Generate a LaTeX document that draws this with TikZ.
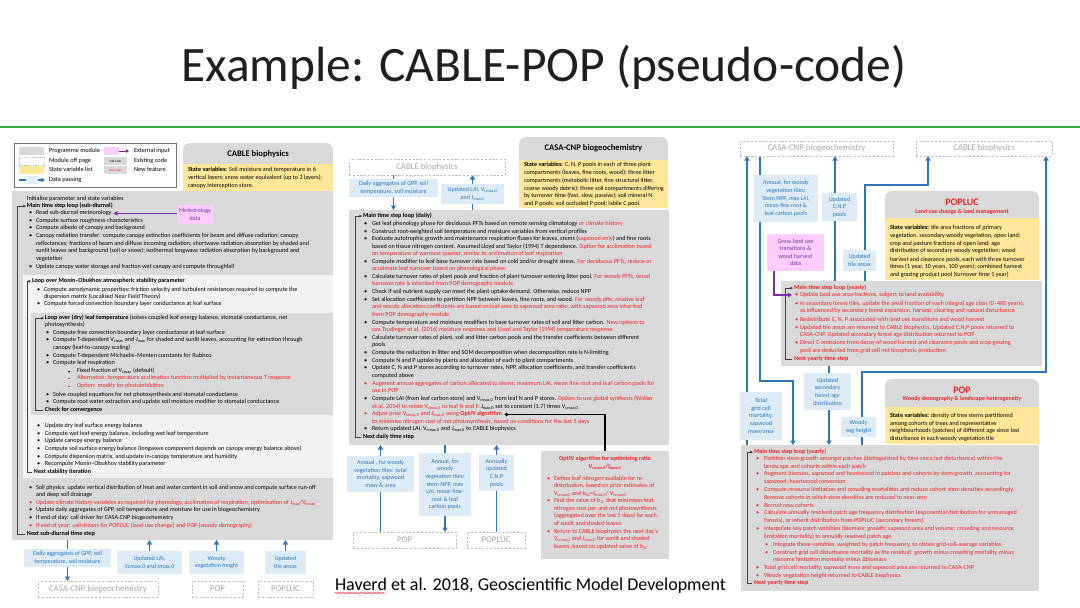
\documentclass[tikz,border=0pt]{standalone}
\usepackage{fontspec}
\setmainfont{Carlito}
\usetikzlibrary{arrows.meta,decorations.pathmorphing}
\definecolor{modgrey}{HTML}{D9D9D9}
\definecolor{lightgrey}{HTML}{F2F2F2}
\definecolor{stateyel}{HTML}{FFE699}
\definecolor{datablue}{HTML}{DDEBF7}
\definecolor{bluetxt}{HTML}{2E75B6}
\definecolor{bluearr}{HTML}{2E75B6}
\definecolor{pinkbox}{HTML}{FFCCFF}
\definecolor{purp}{HTML}{7030A0}
\definecolor{newred}{HTML}{E3242B}
\definecolor{offgrey}{HTML}{A6A6A6}
\definecolor{offline}{HTML}{BFBFBF}
\definecolor{titlegreen}{HTML}{3BA849}
\definecolor{brkgrey}{HTML}{404040}
\pgfdeclarelayer{bottom}
\pgfdeclarelayer{background}
\pgfsetlayers{bottom,background,main}
\newcommand\fbody{\fontsize{6.15}{7.6}\selectfont}
\newcommand\fdata{\fontsize{6.1}{7.6}\selectfont}
\newcommand\flg{\fontsize{6.3}{7.6}\selectfont}
\newcommand\R[1]{\textcolor{newred}{#1}}
\newcommand\sub[1]{\textsubscript{#1}}
\newcounter{ln}
\newcommand\Ln[4][]{\stepcounter{ln}\node[ln,#1] (ln\theln) at (#2,#3+1.9) {#4};}
\newcommand\Bu[5][]{\Ln[#1]{#2}{#4}{\textbullet}\Ln[#1]{#3}{#4}{#5}}
\newcommand\Sq[5][]{\Ln[#1]{#2}{#4}{\rule[0.5pt]{1.8pt}{1.8pt}}\Ln[#1]{#3}{#4}{#5}}
\newcommand\Bx[7]{\node[#2,anchor=north west,minimum width={#5-#3},minimum height={#6-#4}] (#1) at (#3,#4) {#7};}
\newcommand\Brk[3]{\coordinate (bk#1) at (#3,0); \draw[brka] ([xshift=-2pt]#2.west) -- (#2.west -| bk#1) -- (#1.west -| bk#1) -- ([xshift=-1pt]#1.west);}
\tikzset{
  bx/.style={inner sep=0pt,outer sep=0pt},
  ln/.style={anchor=base west,inner sep=0pt,outer sep=0pt,font=\fbody},
  rl/.style={text=newred},
  modbox/.style={bx,fill=modgrey},
  modhead/.style={bx,fill=modgrey,rounded corners=7pt},
  statebox/.style={bx,fill=stateyel},
  dbox/.style={bx,fill=datablue,text=bluetxt,align=center,font=\fdata},
  offbox/.style={bx,draw=offline,dash pattern=on 2.2pt off 1.6pt,line width=0.8pt,text=offgrey,font=\fontsize{8.8}{10}\selectfont},
  pinkb/.style={bx,fill=pinkbox,text=purp,align=center,font=\fdata},
  barrow/.style={draw=bluearr,line width=1.4pt,-{Triangle[length=4.5pt,width=5pt]}},
  parrow/.style={draw=purp,line width=1.2pt,-{Triangle[length=4pt,width=4.5pt]}},
  brka/.style={draw=brkgrey,line width=0.6pt,-{Triangle[length=2.6pt,width=2.6pt]}},
  hdr/.style={bx,font=\bfseries\fontsize{8.6}{10}\selectfont},
  rhdr/.style={bx,text=newred,font=\bfseries\fontsize{10}{11}\selectfont},
  rsub/.style={bx,text=newred,font=\bfseries\fontsize{6}{7}\selectfont},
}
\begin{document}
\begin{tikzpicture}[x=1pt,y=-1pt]
\begin{pgfonlayer}{bottom}
\fill[white] (0,0) rectangle (1080,608);
\end{pgfonlayer}
\useasboundingbox (0,0) rectangle (1080,608);

% ---------- title ----------
\node[bx,anchor=base,font=\fontsize{49.5}{52}\selectfont,text=black!88] (title) at (544,81) {Example: CABLE-POP (pseudo-code)};
\coordinate (gl0) at (0,127); \coordinate (gl1) at (1080,127);
\draw[titlegreen,line width=1.8pt] (gl0) -- (gl1);

% ================= LEFT PANEL =================
\Bx{legend}{bx,draw=black!55,line width=0.7pt}{14}{143}{176}{187}{}
\Bx{swA}{modbox}{19}{147}{44}{155}{}
\Bx{swB}{bx,draw=offline,dash pattern=on 1.5pt off 1.2pt,line width=0.6pt}{19}{157}{44}{165}{}
\Bx{swC}{statebox}{19}{166}{44}{174}{}
\Bx{swD}{bx,fill=datablue}{26}{176}{38}{184}{}
\coordinate (swDs) at (19,180); \coordinate (swDe) at (45,180);
\begin{pgfonlayer}{background}
\draw[barrow,line width=1.1pt,-{Triangle[length=3.5pt,width=4pt]}] (swDs) -- (swDe);
\end{pgfonlayer}
\Ln[font=\flg]{49}{151}{Programme module}
\Ln[font=\flg]{49}{161}{Module off page}
\Ln[font=\flg]{49}{170}{State variable list}
\Ln[font=\flg]{49}{180}{Data passing}
\Bx{swE}{bx,fill=pinkbox}{104}{147}{119}{155}{}
\coordinate (swEe) at (129,151);
\draw[parrow,line width=1pt,-{Triangle[length=3pt,width=3.5pt]}] (swE.east) -- (swEe);
\Bx{swF}{modbox,font=\fontsize{3.2}{4}\selectfont}{104}{157}{127}{165}{Old code}
\Bx{swG}{modbox,text=newred,font=\fontsize{3.2}{4}\selectfont}{104}{166}{127}{174}{New code}
\Ln[font=\flg]{134}{151}{External input}
\Ln[font=\flg]{134}{161}{Existing code}
\Ln[font=\flg]{134}{170}{New feature}

% CABLE module
\Bx{cableM}{modhead}{183}{143}{333}{190}{}
\Bx{cableS}{statebox}{183}{164}{333}{191}{}
\node[hdr] (cableT) at (258,154) {CABLE biophysics};
\Ln{188}{170}{\textbf{State variables:} Soil moisture and temperature in 6}
\Ln{188}{178}{vertical layers; snow water equivalent (up to 3 layers);}
\Ln{188}{186}{canopy interception store.}

% main CABLE box
\Bx{cableL}{modbox}{12}{191}{333}{540}{}
\Bx{stab}{bx,fill=lightgrey}{23}{275}{333}{478}{}
\Bx{leaf}{modbox}{31}{313}{333}{415}{}

\Ln{27}{199}{Initialise parameter and state variables}
\node[ln] (L1top) at (27,206+1.9) {\textbf{Main time step loop (sub-diurnal)}};
\Ln{29}{213}{\textbullet}
\node[ln] (readmet) at (36,213+1.9) {Read sub-diurnal meteorology};
\Bu{29}{36}{221}{Compute surface roughness characteristics}
\Bu{29}{36}{228}{Compute albedo of canopy and background}
\Bu{29}{36}{236}{Canopy radiation transfer: compute canopy extinction coefficients for beam and diffuse radiation; canopy}
\Ln{36}{244}{reflectances; fractions of beam and diffuse incoming radiation; shortwave radiation absorption by shaded and}
\Ln{36}{251}{sunlit leaves and background (soil or snow); isothermal longwave radiation absorption by background and}
\Ln{36}{259}{vegetation}
\Bu{29}{36}{267}{Update canopy water storage and fraction wet canopy and compute throughfall}

\Bx{met}{pinkb}{177}{205}{213}{224}{Meteorology\\data}
\draw[parrow] (met.west |- readmet.east) -- ([xshift=2pt]readmet.east);

\node[ln] (L2top) at (32,281+1.9) {\textbf{Loop over Monin–Obukhov atmospheric stability parameter}};
\Bu{37}{44}{290}{Compute aerodynamic properties: friction velocity and turbulent resistances required to compute the}
\Ln{44}{297}{dispersion matrix (Localised Near Field Theory)}
\Bu{37}{44}{304}{Compute forced convection boundary layer conductance at leaf surface}

\node[ln] (L3top) at (45,318+1.9) {\textbf{Loop over (dry) leaf temperature} (solves coupled leaf energy balance, stomatal conductance, net};
\Ln{45}{325}{photosynthesis)}
\Bu{46}{53}{333}{Compute free convection boundary layer conductance at leaf surface}
\Bu{46}{53}{340}{Compute T-dependent V\sub{cmax} and J\sub{max} for shaded and sunlit leaves, accounting for extinction through}
\Ln{53}{348}{canopy (leaf-to-canopy scaling)}
\Bu{46}{53}{356}{Compute T-dependent Michaelis–Menten constants for Rubisco}
\Bu{46}{53}{363}{Compute leaf respiration}
\Sq{68}{77}{371}{Fixed fraction of V\sub{cmax} (default)}
\Sq[rl]{68}{77}{378}{Alternative: temperature acclimation function multiplied by instantaneous T response}
\Sq[rl]{68}{77}{386}{Option: modify for photoinhibition}
\Bu{46}{53}{395}{Solve coupled equations for net photosynthesis and stomatal conductance}
\Bu{46}{53}{402}{Compute root water extraction and update soil moisture modifier to stomatal conductance}
\node[ln] (L3bot) at (45,410+1.9) {\textbf{Check for convergence}};
\Brk{L3top}{L3bot}{35}

\Bu{37}{45}{426}{Update dry leaf surface energy balance}
\Bu{37}{45}{434}{Compute wet leaf energy balance, including wet leaf temperature}
\Bu{37}{45}{441}{Update canopy energy balance}
\Bu{37}{45}{449}{Compute soil surface energy balance (longwave component depends on canopy energy balance above)}
\Bu{37}{45}{457}{Compute dispersion matrix, and update in-canopy temperature and humidity}
\Bu{37}{45}{464}{Recompute Monin–Obukhov stability parameter}
\node[ln] (L2bot) at (34,472+1.9) {\textbf{Next stability iteration}};
\Brk{L2top}{L2bot}{27}

\Bu{29}{36}{488}{Soil physics: update vertical distribution of heat and water content in soil and snow and compute surface run-off}
\Ln{36}{495}{and deep soil drainage}
\Bu[rl]{29}{36}{503}{Update climate history variables as required for phenology, acclimation of respiration, optimisation of J\sub{max}/V\sub{cmax}}
\Bu{29}{36}{510}{Update daily aggregates of GPP, soil temperature and moisture for use in biogeochemistry}
\Bu{29}{36}{518}{If end of day: call driver for CASA-CNP biogeochemistry}
\Bu[rl]{29}{36}{526}{If end of year: call drivers for POPLUC (land use change) and POP (woody demography)}
\node[ln] (L1bot) at (27,534+1.9) {\textbf{Next sub-diurnal time step}};
\Brk{L1top}{L1bot}{17}

% left bottom data boxes
\Bx{dl1}{dbox}{24}{549}{111}{567}{Daily aggregates of GPP, soil\\temperature, soil moisture}
\Bx{dl2}{dbox}{117}{551}{182}{574}{Updated LAI,\\Vcmax,0 and Jmax,0}
\Bx{dl3}{dbox}{189}{551}{244}{574}{Woody\\vegetation height}
\Bx{dl4}{dbox}{265}{551}{306}{574}{Updated\\tile areas}
\Bx{offCasaL}{offbox}{38}{581}{158}{597}{CASA-CNP biogeochemistry}
\Bx{offPopL}{offbox}{192}{581}{243}{597}{POP}
\Bx{offLucL}{offbox}{258}{581}{313}{597}{POPLUC}
\begin{pgfonlayer}{background}
\draw[barrow] (cableL.south -| dl1.north) -- (offCasaL.north -| dl1.south);
\end{pgfonlayer}
\draw[barrow] (dl2.north) -- (dl2.north |- cableL.south);
\draw[barrow] (dl3.north) -- (dl3.north |- cableL.south);
\draw[barrow] (dl4.north) -- (dl4.north |- cableL.south);

% ================= MIDDLE PANEL =================
\Bx{offCableM}{offbox}{349}{159}{505}{175}{CABLE biophysics}
\Bx{dm1}{dbox}{349}{179}{438}{197}{Daily aggregates of GPP, soil\\temperature, soil moisture}
\Bx{dm2}{dbox}{441}{184}{504}{204}{Updated LAI, V\sub{cmax,0}\\and J\sub{max,0}}

\Bx{casaM}{modhead}{519}{137}{668}{200}{}
\Bx{casaS}{statebox}{519}{160}{668}{208}{}
\node[hdr] (casaT) at (593.5,148) {CASA-CNP biogeochemistry};
\Ln{524}{165}{\textbf{State variables:} C, N, P pools in each of three plant}
\Ln{524}{173}{compartments (leaves, fine roots, wood); three litter}
\Ln{524}{181}{compartments (metabolic litter, fine structural litter,}
\Ln{524}{189}{coarse woody debris); three soil compartments differing}
\Ln{524}{196}{by turnover time (fast, slow, passive); soil mineral N}
\Ln{524}{204}{and P pools; soil occluded P pool; labile C pool.}

\Bx{casaMain}{modbox}{349}{210}{669}{445}{}
\begin{pgfonlayer}{background}
\draw[barrow] (offCableM.south -| dm1) -- (casaMain.north -| dm1);
\draw[barrow] (casaMain.north -| dm2) -- (offCableM.south -| dm2);
\end{pgfonlayer}

\node[ln] (M1top) at (363,216+1.9) {\textbf{Main time step loop (daily)}};
\Bu{364}{372}{224}{Get leaf phenology phase for deciduous PFTs based on remote sensing climatology \R{or climate history}}
\Bu{364}{372}{232}{Construct root-weighted soil temperature and moisture variables from vertical profiles}
\Bu{364}{372}{239}{Evaluate autotrophic growth and maintenance respiration fluxes for leaves, stems (\R{sapwood only}) and fine roots}
\Ln{372}{247}{based on tissue nitrogen content. Assumed Lloyd and Taylor (1994) T dependence. \R{Option for acclimation based}}
\Ln[rl]{372}{254}{on temperature of warmest quarter, similar to acclimation of leaf respiration}
\Bu{364}{372}{262}{Compute modifier to leaf base turnover rate based on cold and/or drought stress. \R{For deciduous PFTs, reduce or}}
\Ln[rl]{372}{269}{accelerate leaf turnover based on phenological phase}
\Bu{364}{372}{277}{Calculate turnover rates of plant pools and fraction of plant turnover entering litter pool. \R{For woody PFTs, wood}}
\Ln[rl]{372}{284}{turnover rate is inherited from POP demography module}
\Bu{364}{372}{292}{Check if soil nutrient supply can meet the plant uptake demand. Otherwise, reduce NPP}
\Bu{364}{372}{300}{Set allocation coefficients to partition NPP between leaves, fine roots, and wood. \R{For woody pfts, relative leaf}}
\Ln[rl]{372}{307}{and woody allocation coefficients are based on leaf area to sapwood area ratio, with sapwood area inherited}
\Ln[rl]{372}{315}{from POP demography module}
\Bu{364}{372}{323}{Compute temperature and moisture modifiers to base turnover rates of soil and litter carbon. \R{New options to}}
\Ln[rl]{372}{330}{use Trudinger et al. (2016) moisture response and Lloyd and Taylor (1994) temperature response}
\Bu{364}{372}{338}{Calculate turnover rates of plant, soil and litter carbon pools and the transfer coefficients between different}
\Ln{372}{345}{pools}
\Bu{364}{372}{353}{Compute the reduction in litter and SOM decomposition when decomposition rate is N-limiting}
\Bu{364}{372}{361}{Compute N and P uptake by plants and allocation of each to plant compartments}
\Bu{364}{372}{368}{Update C, N and P stores according to turnover rates, NPP, allocation coefficients, and transfer coefficients}
\Ln{372}{376}{computed above}
\Bu[rl]{364}{372}{384}{Augment annual aggregates of carbon allocated to stems; maximum LAI, mean fine root and leaf carbon pools for}
\Ln[rl]{372}{391}{use in POP}
\Bu{364}{372}{399}{Compute LAI (from leaf carbon store) and V\sub{cmax,0} from leaf N and P stores. \R{Option to use global synthesis (Walker}}
\Ln{372}{407}{\R{et al. 2014) to relate V\sub{cmax,0} to leaf N and P.} J\sub{max,0} set to constant (1.7) times V\sub{cmax,0}}
\Ln[rl]{364}{414}{\textbullet}
\node[ln,rl] (optref) at (372,414+1.9) {Adjust prior V\sub{cmax,0} and J\sub{max,0} using \textbf{OptJV algorithm}};
\Ln[rl]{372}{422}{to minimise nitrogen cost of net photosynthesis, based on conditions for the last 5 days}
\Bu{364}{372}{429}{Return updated LAI, V\sub{cmax,0} and J\sub{max,0} to CABLE biophysics}
\node[ln] (M1bot) at (363,437+1.9) {\textbf{Next daily time step}};
\Brk{M1top}{M1bot}{355}

% OptJV box
\Bx{optjv}{modbox}{541}{451}{669}{559}{}
\draw[black,line width=1.1pt,{Circle[length=3.2pt]}-] ([xshift=3pt]optref.east) -| (optjv.north);
\node[bx,rl,anchor=base,font=\fbody] (optT1) at (605,459+1.9) {\textbf{OptJV algorithm for optimising ratio}};
\node[bx,rl,anchor=base,font=\fbody] (optT2) at (605,467+1.9) {\textbf{V\sub{cmax,0}/J\sub{max,0}}};
\Bu[rl]{547}{554}{479}{Define leaf nitrogen available for re-}
\Ln[rl]{554}{486}{distribution, based on prior estimates of}
\Ln[rl]{554}{494}{V\sub{cmax,0} and b\sub{JV}=J\sub{max,0}/ V\sub{cmax,0}}
\Bu[rl]{547}{554}{501}{Find the value of b\sub{JV} that minimises leaf}
\Ln[rl]{554}{509}{nitrogen cost per unit net photosynthesis}
\Ln[rl]{554}{516}{(aggregated over the last 5 days) for each}
\Ln[rl]{554}{524}{of sunlit and shaded leaves}
\Bu[rl]{547}{554}{532}{Return to CABLE biophysics the next day’s}
\Ln[rl]{554}{539}{V\sub{cmax,0} and J\sub{max,0} for sunlit and shaded}
\Ln[rl]{554}{547}{leaves, based on updated value of b\sub{JV}}

% middle bottom
\Bx{dm3}{dbox}{347}{456}{414}{492}{Annual , for woody\\vegetation tiles: total\\mortality, sapwood\\mass \& area}
\Bx{dm4}{dbox}{419}{453}{471}{516}{Annual, for\\woody\\vegetation tiles:\\stem NPP, max\\LAI, mean fine-\\root \& leaf\\carbon pools}
\Bx{dm5}{dbox}{479}{455}{514}{491}{Annually\\updated\\C,N,P\\pools}
\Bx{offPopM}{offbox}{353}{532}{456}{548}{POP}
\Bx{offLucM}{offbox}{467}{532}{525}{548}{POPLUC}
\begin{pgfonlayer}{background}
\draw[barrow] (offPopM.north -| dm3) -- (casaMain.south -| dm3);
\draw[barrow] (casaMain.south -| dm4) -- (offPopM.north -| dm4);
\draw[barrow] (offLucM.north -| dm5) -- (casaMain.south -| dm5);
\end{pgfonlayer}

% citation
\node[bx,anchor=base west,font=\fontsize{18}{20}\selectfont] (cite) at (335,590) {Haverd et al. 2018, Geoscientific Model Development};
\draw[newred,line width=0.5pt,decorate,decoration={snake,amplitude=0.6pt,segment length=2.5pt}] ([yshift=-3pt]cite.base west) -- ++(50,0);

% ================= RIGHT PANEL =================
\Bx{offCasaR}{offbox}{740}{141}{893}{156}{CASA-CNP biogeochemistry}
\Bx{offCableR}{offbox}{916}{141}{1052}{156}{CABLE biophysics}

\Bx{lucM}{modhead}{885}{191}{1039}{240}{}
\Bx{lucS}{statebox}{885}{218}{1039}{280}{}
\node[rhdr] (lucT) at (962,202) {POPLUC};
\node[rsub] (lucT2) at (962,212) {Land use change \& land management};
\Ln{890}{228}{\textbf{State variables:} tile area fractions of primary}
\Ln{890}{236}{vegetation, secondary woody vegetation, open land;}
\Ln{890}{244}{crop and pasture fractions of open land; age}
\Ln{890}{251}{distribution of secondary woody vegetation; wood}
\Ln{890}{260}{harvest and clearance pools, each with three turnover}
\Ln{890}{267}{times (1 year, 10 years, 100 years); combined harvest}
\Ln{890}{275}{and grazing product pool (turnover time 1 year)}

\Bx{lucL}{modbox}{781}{281}{1042}{366}{}
\node[ln,rl] (P1top) at (794,288+1.9) {\textbf{Main time step loop (yearly)}};
\Bu[rl]{795}{800}{295}{Update land use area fractions, subject to land availability}
\Bu[rl]{795}{800}{304}{In secondary forest tiles, update the areal fraction of each integral age class (0–400 years),}
\Ln[rl]{800}{311}{as influenced by secondary forest expansion, harvest, clearing and natural disturbance}
\Bu[rl]{795}{800}{320}{Redistribute C, N, P associated with land use transitions and wood harvest}
\Bu[rl]{795}{800}{328}{Updated tile areas are returned to CABLE biophysics. Updated C,N,P pools returned to}
\Ln[rl]{800}{335}{CASA-CNP. Updated secondary forest age distribution returned to POP}
\Bu[rl]{795}{800}{343}{Direct C emissions from decay of wood harvest and clearance pools and crop-grazing}
\Ln[rl]{800}{351}{pool are deducted from grid cell net biospheric production}
\node[ln,rl] (P1bot) at (794,359+1.9) {\textbf{Next yearly time step}};
\Brk{P1top}{P1bot}{785}

\Bx{popM}{modhead}{885}{379}{1039}{420}{}
\Bx{popS}{statebox}{885}{407}{1039}{444}{}
\node[rhdr] (popT) at (962,390) {POP};
\node[rsub] (popT2) at (962,399) {Woody demography \& landscape heterogeneity};
\Ln{890}{416}{\textbf{State variables:} density of tree stems partitioned}
\Ln{890}{424}{among cohorts of trees and representative}
\Ln{890}{431}{neighbourhoods (patches) of different age since last}
\Ln{890}{439}{disturbance in each woody vegetation tile}

\Bx{popL}{modbox}{741}{445}{1039}{591}{}
\node[ln,rl] (P2top) at (754,452+1.9) {\textbf{Main time step loop (yearly)}};
\Bu[rl]{756}{764}{459}{Partition stem growth amongst patches (distinguished by time since last disturbance) within the}
\Ln[rl]{764}{467}{landscape and cohorts within each patch}
\Bu[rl]{756}{764}{474}{Augment biomass, sapwood and heartwood in patches and cohorts by stem growth, accounting for}
\Ln[rl]{764}{482}{sapwood–heartwood conversion}
\Bu[rl]{756}{764}{490}{Compute resource limitation and crowding mortalities and reduce cohort stem densities accordingly.}
\Ln[rl]{764}{498}{Remove cohorts in which stem densities are reduced to near-zero}
\Bu[rl]{756}{764}{506}{Recruit new cohorts}
\Bu[rl]{756}{764}{513}{Calculate annually resolved patch age frequency distribution (exponential distribution for unmanaged}
\Ln[rl]{764}{521}{forests), or inherit distribution from POPLUC (secondary forests)}
\Bu[rl]{756}{764}{529}{Interpolate key patch variables (biomass; growth; sapwood area and volume; crowding and resource}
\Ln[rl]{764}{537}{limitation mortality) to annually resolved patch age}
\Bu[rl]{765}{773}{545}{Integrate these variables, weighted by patch frequency, to obtain grid-cell-average variables}
\Bu[rl]{765}{773}{553}{Construct grid cell disturbance mortality as the residual: growth minus crowding mortality minus}
\Ln[rl]{773}{560}{resource limitation mortality minus Δbiomass}
\Bu[rl]{756}{764}{568}{Total grid cell mortality, sapwood mass and sapwood area are returned to CASA-CNP}
\Bu[rl]{756}{764}{576}{Woody vegetation height returned to CABLE biophysics}
\node[ln,rl] (P2bot) at (754,583+1.9) {\textbf{Next yearly time step}};
\Brk{P2top}{P2bot}{747}

% right data boxes
\Bx{dr1}{dbox}{754}{175}{818}{222}{Annual, for woody\\vegetation tiles:\\Stem NPP, max LAI,\\mean fine root \&\\leaf carbon pools}
\Bx{dr2}{dbox}{822}{193}{857}{221}{Updated\\C,N,P\\pools}
\Bx{gross}{pinkb}{767}{234}{824}{271}{Gross land use\\transitions \&\\wood harvest\\data}
\Bx{dr3}{dbox}{843}{250}{876}{271}{Updated\\tile areas}
\Bx{dr4}{dbox}{804}{373}{851}{410}{Updated\\secondary\\forest age\\distribution}
\Bx{dr5}{dbox}{740}{392}{782}{440}{Total\\grid cell\\mortality,\\sapwood\\mass/area}
\Bx{dr6}{dbox}{841}{417}{876}{437}{Woody\\veg height}

\coordinate (xr1) at (747,0);
\coordinate (c2a) at (760,381); \coordinate (c2b) at (793,381);
\coordinate (xr3) at (835,0);
\coordinate (c4a) at (865,185); \coordinate (c4b) at (928,185);
\coordinate (c5a) at (1046,372); \coordinate (c5b) at (862,372);
\coordinate (xr6) at (829,0);
\coordinate (c7a) at (774,295); \coordinate (c7b) at (792,295);
\begin{pgfonlayer}{background}
\draw[barrow] (popL.north -| xr1) -- (offCasaR.south -| xr1);
\draw[barrow] (offCasaR.south -| c2a) -- (c2a) -- (c2b) -- (popL.north -| c2b);
\draw[barrow] (lucL.north -| xr3) -- (offCasaR.south -| xr3);
\draw[barrow] (lucL.north -| c4a) -- (c4a) -- (c4b) -- (offCableR.south -| c4b);
\draw[barrow] (popL.north -| c5b) -- (c5b) -- (c5a) -- (offCableR.south -| c5a);
\draw[barrow] (lucL.south -| xr6) -- (popL.north -| xr6);
\end{pgfonlayer}
\draw[parrow] (gross.south -| c7a) -- (c7a) -- (c7b);
\end{tikzpicture}
\end{document}
